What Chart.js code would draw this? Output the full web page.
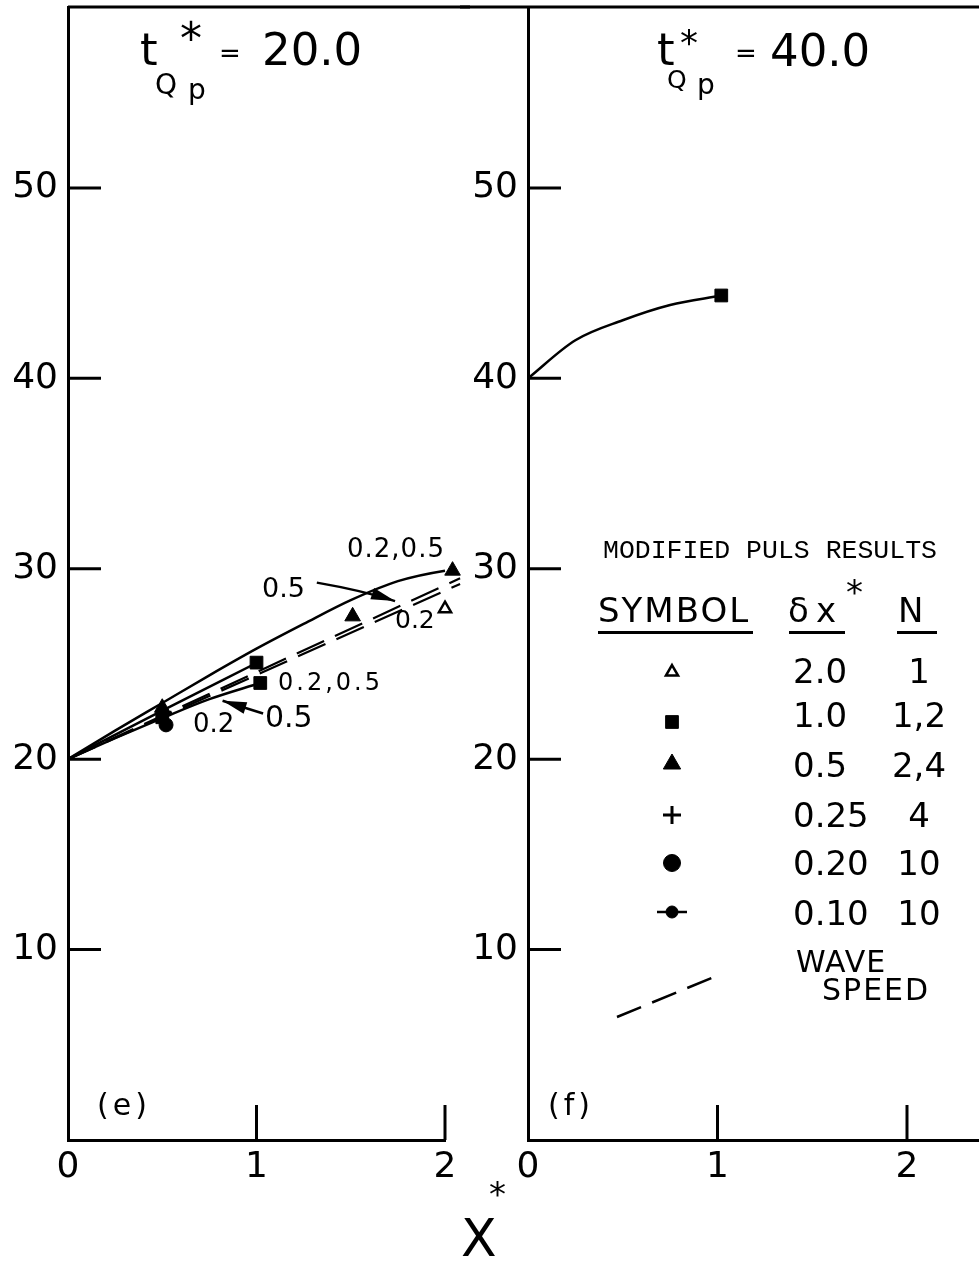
<!DOCTYPE html>
<html><head><meta charset="utf-8">
<script src="https://cdn.jsdelivr.net/npm/chart.js@4/dist/chart.umd.min.js"></script>
<style>
html,body{margin:0;padding:0;background:#fff;}
#wrap{position:relative;width:979px;height:1263px;overflow:hidden;font-family:"DejaVu Sans",sans-serif;color:#000;background:#fff;}
canvas{position:absolute;top:0;}
#cE{left:0;}
#cF{left:460px;}
.t{position:absolute;white-space:nowrap;line-height:1;}
.u{position:absolute;background:#000;}
</style></head><body><div id="wrap">
<canvas id="cE" width="470" height="1263"></canvas>
<canvas id="cF" width="519" height="1263"></canvas>
</div>
<script>
// ---------- ticks ----------
const xTicks = [0, 1, 2];
const yTicks = [10, 20, 30, 40, 50];

// ---------- panel (e): t*Qp = 20.0 ----------
const eUpperX = [0, 0.25, 0.5, 0.75, 1.0, 1.25, 1.5, 1.75, 2.0, 2.05];
const eUpperY = [20, 21.5, 22.95, 24.4, 25.8, 27.1, 28.35, 29.35, 29.9, 29.95];
const eMidX = [0, 0.5, 1.0];
const eMidY = [20, 22.55, 25.05];
const eLowX = [0, 0.25, 0.5, 0.75, 1.02];
const eLowY = [20, 21.1, 22.15, 23.15, 24.0];
const eWave1X = [0, 2.08];
const eWave1Y = [20, 29.5];
const eWave2X = [0, 2.08];
const eWave2Y = [20, 29.2];
const eTriFilledX = [0.5, 1.51, 2.04];
const eTriFilledY = [22.7, 27.5, 29.9];
const eSquareX = [0.5, 1.0, 1.02];
const eSquareY = [22.2, 25.07, 24.0];
const eCircleX = [0.52];
const eCircleY = [21.8];
const eTriOpenX = [2.0];
const eTriOpenY = [27.9];
// annotation arrows (data units)
const arrowUpperX = [1.32, 1.565, 1.735];
const arrowUpperY = [29.27, 28.85, 28.3];
const arrowLowerX = [1.035, 0.82];
const arrowLowerY = [22.4, 23.07];

// ---------- panel (f): t*Qp = 40.0 ----------
const fCurveX = [0, 0.25, 0.5, 0.75, 1.02];
const fCurveY = [40, 42.0, 43.05, 43.85, 44.35];
const fSquareX = [1.02];
const fSquareY = [44.35];

// ---------- legend table ----------
const legendDx = ['2.0', '1.0', '0.5', '0.25', '0.20', '0.10'];
const legendN = ['1', '1,2', '2,4', '4', '10', '10'];

const pts = (xs, ys) => xs.map((x, i) => ({x: x, y: ys[i]}));
Chart.defaults.color = '#000';
Chart.defaults.font.family = '"DejaVu Sans", sans-serif';

const frame = {
  id: 'frame',
  afterDraw(chart, args, o) {
    const {ctx, chartArea: a, scales: {x, y}} = chart;
    ctx.save();
    ctx.strokeStyle = '#000'; ctx.lineWidth = 3; ctx.lineCap = 'butt';
    yTicks.forEach(v => {
      const py = y.getPixelForValue(v);
      ctx.beginPath(); ctx.moveTo(a.left, py); ctx.lineTo(a.left + 33, py); ctx.stroke();
    });
    xTicks.forEach(v => {
      if (v === 0) return;
      const px = x.getPixelForValue(v);
      ctx.beginPath(); ctx.moveTo(px, a.bottom); ctx.lineTo(px, a.bottom - 35); ctx.stroke();
    });
    ctx.beginPath(); ctx.moveTo(o.topFrom === undefined ? a.left : o.topFrom, a.top); ctx.lineTo(chart.width, a.top); ctx.stroke();
    ctx.restore();
  }
};

const arrows = {
  id: 'arrows',
  afterDatasetsDraw(chart, args, o) {
    if (!o.list) return;
    const {ctx, scales: {x, y}} = chart;
    o.list.forEach(ar => {
      const p = ar.x.map((v, i) => [x.getPixelForValue(v), y.getPixelForValue(ar.y[i])]);
      ctx.save(); ctx.strokeStyle = '#000'; ctx.fillStyle = '#000'; ctx.lineWidth = 2.5;
      ctx.beginPath();
      ctx.moveTo(p[0][0], p[0][1]);
      if (p.length === 3) ctx.quadraticCurveTo(p[1][0], p[1][1], p[2][0], p[2][1]);
      else p.slice(1).forEach(q => ctx.lineTo(q[0], q[1]));
      ctx.stroke();
      const [x2, y2] = p[p.length - 1], [x1, y1] = p[p.length - 2];
      const ang = Math.atan2(y2 - y1, x2 - x1), L = 24, W = 6;
      ctx.beginPath(); ctx.moveTo(x2, y2);
      ctx.lineTo(x2 - L * Math.cos(ang) + W * Math.sin(ang), y2 - L * Math.sin(ang) - W * Math.cos(ang));
      ctx.lineTo(x2 - L * Math.cos(ang) - W * Math.sin(ang), y2 - L * Math.sin(ang) + W * Math.cos(ang));
      ctx.closePath(); ctx.fill(); ctx.restore();
    });
  }
};

const legendMarks = {
  id: 'legendMarks',
  afterDraw(chart, args, o) {
    if (!o.on) return;
    const ctx = chart.ctx, cx = 672 - 460;
    const H = Chart.helpers;
    const mark = (style, r, y, fill, bw) => {
      ctx.save(); ctx.strokeStyle = '#000'; ctx.fillStyle = fill; ctx.lineWidth = bw;
      H.drawPoint(ctx, {pointStyle: style, radius: r, borderWidth: bw, rotation: 0}, cx, y);
      ctx.restore();
    };
    mark('triangle', 7, 672, '#fff', 2.5);
    mark('rect', 9, 722, '#000', 1);
    mark('triangle', 10, 764, '#000', 1);
    mark('cross', 9, 815, '#000', 3);
    mark('circle', 8.5, 863, '#000', 1);
    ctx.save(); ctx.strokeStyle = '#000'; ctx.lineWidth = 2.5;
    ctx.beginPath(); ctx.moveTo(cx - 15, 912); ctx.lineTo(cx + 15, 912); ctx.stroke(); ctx.restore();
    mark('circle', 6, 912, '#000', 1);
    ctx.save(); ctx.strokeStyle = '#000'; ctx.lineWidth = 2.5; ctx.setLineDash([26, 12]);
    ctx.beginPath(); ctx.moveTo(617 - 460, 1017); ctx.lineTo(714 - 460, 977); ctx.stroke(); ctx.restore();
  }
};

function axes(xmax) {
  return {
    x: {type: 'linear', min: 0, max: xmax,
      afterBuildTicks: s => { s.ticks = xTicks.map(v => ({value: v})); },
      afterFit: s => { s.height = 123; s.paddingLeft = 0; s.paddingRight = 0; s.paddingTop = 0; s.paddingBottom = 0; },
      grid: {display: false, drawTicks: false},
      border: {display: true, color: '#000', width: 3},
      ticks: {font: {size: 36}, padding: 6, maxRotation: 0, autoSkip: false}},
    y: {type: 'linear', min: 0, max: 59.5,
      afterBuildTicks: s => { s.ticks = yTicks.map(v => ({value: v})); },
      afterFit: s => { s.width = 68; s.paddingTop = 0; s.paddingBottom = 0; s.paddingLeft = 0; s.paddingRight = 0; },
      grid: {display: false, drawTicks: false},
      border: {display: true, color: '#000', width: 3},
      ticks: {font: {size: 36}, padding: 10, autoSkip: false}}
  };
}

const solid = (data, extra) => Object.assign({data, showLine: true, borderColor: '#000', borderWidth: 2.5,
  pointRadius: 0, cubicInterpolationMode: 'monotone', clip: false, fill: false}, extra || {});
const dashed = (data) => ({data, showLine: true, borderColor: '#000', borderWidth: 2.2, borderDash: [30, 12],
  pointRadius: 0, clip: false, fill: false});
const marks = (data, style, r, fill, bw) => ({data, showLine: false, pointStyle: style, pointRadius: r,
  backgroundColor: fill, borderColor: '#000', borderWidth: bw, clip: false});

new Chart(document.getElementById('cE'), {
  type: 'scatter',
  data: {datasets: [
    solid(pts(eUpperX, eUpperY)),
    solid(pts(eMidX, eMidY)),
    solid(pts(eLowX, eLowY)),
    dashed(pts(eWave1X, eWave1Y)),
    dashed(pts(eWave2X, eWave2Y)),
    marks(pts(eTriFilledX, eTriFilledY), 'triangle', 9, '#000', 1),
    marks(pts(eSquareX, eSquareY), 'rect', 9, '#000', 1),
    marks(pts(eCircleX, eCircleY), 'circle', 7, '#000', 1),
    marks(pts(eTriOpenX, eTriOpenY), 'triangle', 7, '#fff', 2.5)
  ]},
  options: {responsive: false, animation: false, events: [],
    layout: {autoPadding: false, padding: {top: 7, right: 25, left: 0, bottom: 0}},
    plugins: {legend: {display: false}, tooltip: {enabled: false},
      arrows: {list: [{x: arrowUpperX, y: arrowUpperY}, {x: arrowLowerX, y: arrowLowerY}]},
      frame: {}, legendMarks: {on: false}},
    scales: axes(2)},
  plugins: [frame, arrows, legendMarks]
});

new Chart(document.getElementById('cF'), {
  type: 'scatter',
  data: {datasets: [
    solid(pts(fCurveX, fCurveY)),
    marks(pts(fSquareX, fSquareY), 'rect', 9, '#000', 1)
  ]},
  options: {responsive: false, animation: false, events: [],
    layout: {autoPadding: false, padding: {top: 7, right: 0, left: 0, bottom: 0}},
    plugins: {legend: {display: false}, tooltip: {enabled: false},
      arrows: {list: []}, frame: {topFrom: 0}, legendMarks: {on: true}},
    scales: axes((979 - 528) / 189.5)},
  plugins: [frame, arrows, legendMarks]
});

// ---------- text ----------
const wrap = document.getElementById('wrap');
function T(txt, x, base, fs, o) {
  o = o || {};
  const d = document.createElement('div');
  d.className = 't';
  d.textContent = txt;
  const off = o.mono ? 0.767 : 0.846;
  d.style.left = x + 'px';
  d.style.top = (base - off * fs) + 'px';
  d.style.fontSize = fs + 'px';
  if (o.mono) d.style.fontFamily = '"Liberation Mono", monospace';
  if (o.ls) d.style.letterSpacing = o.ls + 'px';
  if (o.center) d.style.transform = 'translateX(-50%)';
  wrap.appendChild(d);
}
function U(x, y, w) {
  const d = document.createElement('div');
  d.className = 'u';
  d.style.left = x + 'px'; d.style.top = y + 'px'; d.style.width = w + 'px'; d.style.height = '2.5px';
  wrap.appendChild(d);
}
// titles
T('t', 140, 65, 45); T('*', 180, 54, 44); T('Q', 155, 95, 28); T('p', 188, 100, 28); T('=', 219, 62, 26); T('20.0', 262, 65, 45);
T('t', 657, 65, 45); T('*', 680, 55, 36); T('Q', 667, 88, 25); T('p', 697, 95, 28); T('=', 735, 62, 26); T('40.0', 770, 66, 45);
// panel labels, axis title
T('(e)', 97, 1115, 30, {ls: 4}); T('(f)', 548, 1115, 30, {ls: 4});
T('X', 461, 1256, 52); T('*', 489, 1206, 34);
// annotations panel (e)
T('0.2,0.5', 347, 557, 26, {ls: 1});
T('0.5', 262, 597, 27);
T('0.2', 395, 628, 25);
T('0.2,0.5', 278, 690, 24, {ls: 3});
T('0.5', 265, 727, 30);
T('0.2', 193, 732, 26);
// legend
T('MODIFIED PULS RESULTS', 603, 558, 26.5, {mono: true});
T('SYMBOL', 598, 622, 34, {ls: 2}); U(598, 631, 155);
T('δ', 788, 622, 34); T('x', 816, 622, 34); T('*', 846, 604, 34); U(789, 631, 56);
T('N', 898, 622, 34); U(897, 631, 40);
const rowBase = [683, 727, 777, 827, 875, 925];
legendDx.forEach((v, i) => T(v, 793, rowBase[i], 34));
legendN.forEach((v, i) => T(v, 919, rowBase[i], 34, {center: true}));
T('WAVE', 796, 972, 30, {ls: 1});
T('SPEED', 822, 1000, 30, {ls: 2});
</script>
</body></html>
